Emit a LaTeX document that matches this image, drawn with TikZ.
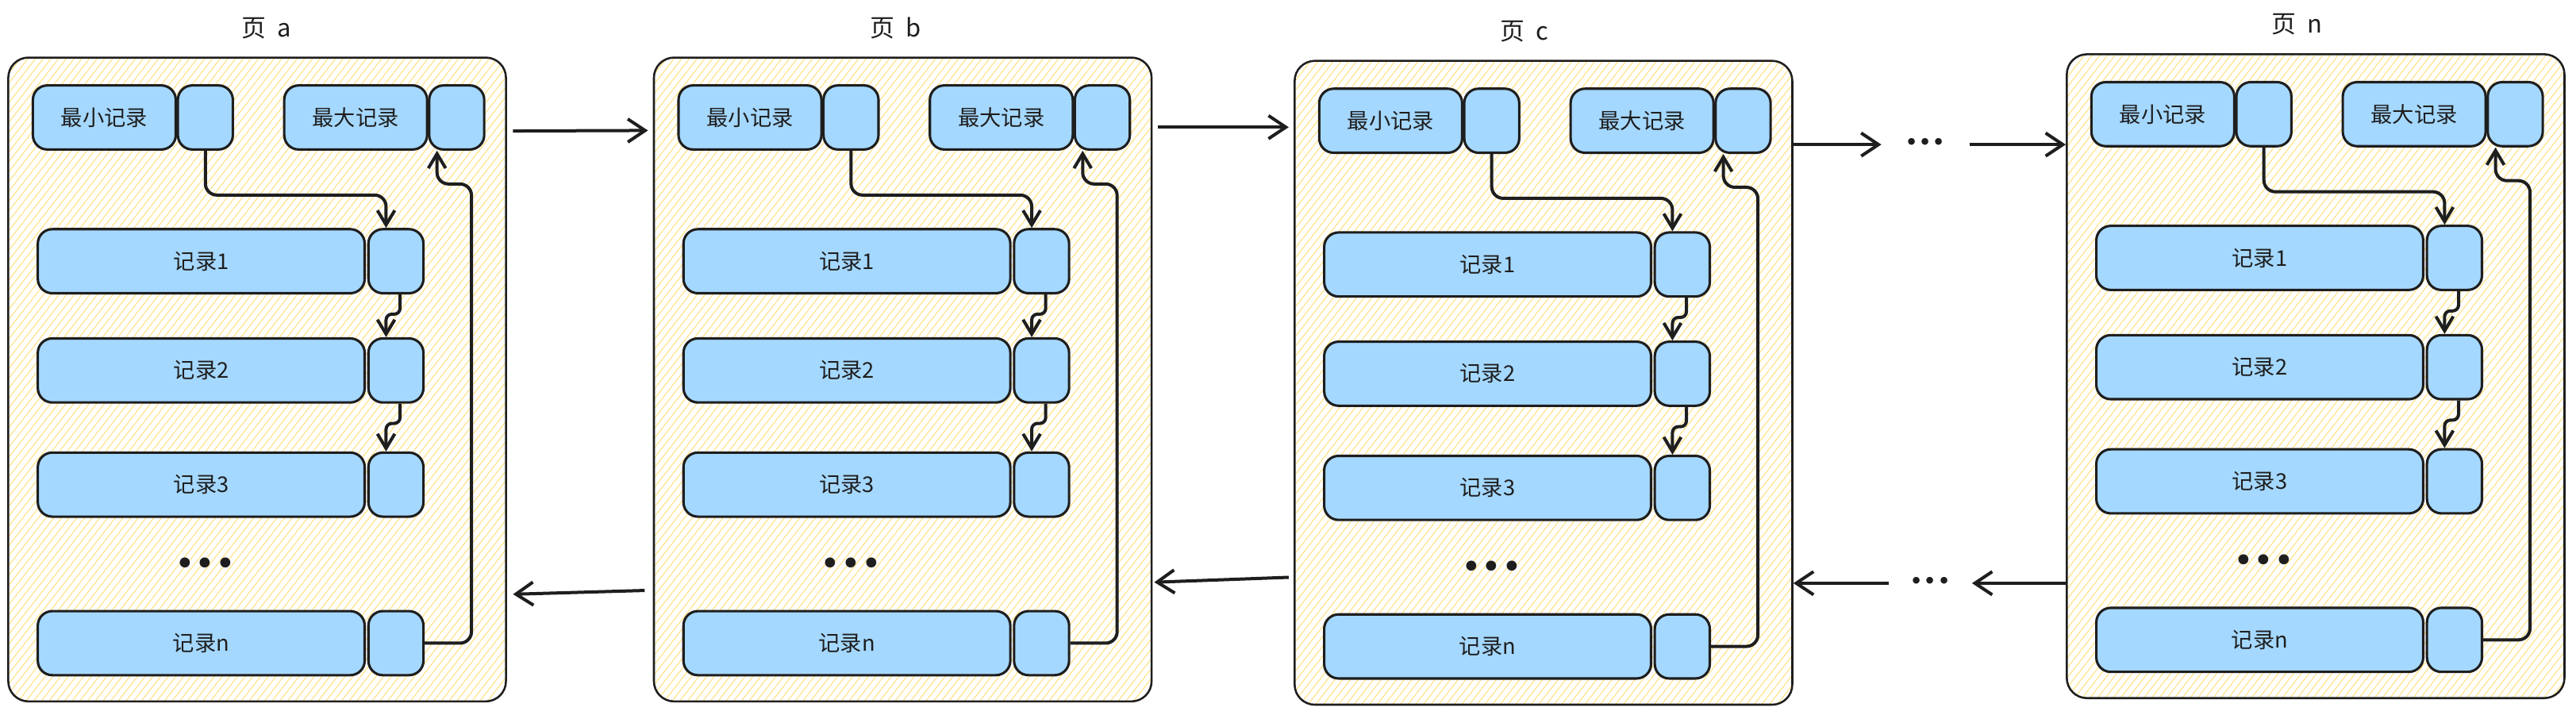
\documentclass[tikz,border=0pt]{standalone}
\usepackage{fontspec}
\setmainfont{Noto Sans CJK SC}
\newfontfamily\dotfont{DejaVu Sans}
\usepackage{tikz}
\usetikzlibrary{arrows.meta,patterns.meta}
\definecolor{ink}{HTML}{1E1E1E}
\definecolor{recblue}{HTML}{A5D8FF}
\definecolor{hatch}{HTML}{FFE58F}

\tikzset{
  page/.style={draw=ink, line width=0.7pt, rounded corners=7pt,
    preaction={fill=white},
    pattern={Lines[angle=52,distance=2.1pt,line width=0.35pt]}, pattern color=hatch,
    minimum width=6.06cm, minimum height=7.84cm},
  rec/.style={draw=ink, line width=0.85pt, fill=recblue, rounded corners=5pt,
    minimum height=0.78cm, inner sep=0pt, text=ink, font=\fontsize{7.5}{9}\selectfont},
  ptr/.style={rec, minimum width=0.67cm},
  link/.style={draw=ink, line width=1.1pt, rounded corners=4pt,
    -{Straight Barb[length=5pt,width=6pt]}},
  hop/.style={draw=ink, line width=1.1pt, -{Straight Barb[length=6pt,width=8pt]}},
  dots/.style={text=ink, inner sep=0pt, font=\dotfont\fontsize{12}{12}\selectfont},
}

\begin{document}
\begin{tikzpicture}[x=0.02cm, y=-0.02cm]
\fill[white] (0,0) rectangle (1568,435);
\useasboundingbox (0,0) rectangle (1568,435);

\foreach \p/\ox/\oy/\tx in {a/5/35/157, b/398/35/147, c/788/37/140, n/1258/33/140}{
\begin{scope}[shift={(\ox,\oy)}]
\node[page] (\p-page) at (151.5,196) {};
\node[text=ink, font=\fontsize{8.5}{10}\selectfont] (\p-title) at (\tx,-18) {页\ \ \p};
\node[rec, minimum width=1.74cm] (\p-min) at (58.5,36.5) {最小记录};
\node[ptr] (\p-minp) at (120,36.5) {};
\node[rec, minimum width=1.74cm] (\p-max) at (211.5,36.5) {最大记录};
\node[ptr] (\p-maxp) at (273,36.5) {};
\foreach \r/\y in {1/124, 2/190.5, 3/260, n/356.5}{
  \node[rec, minimum width=3.98cm] (\p-r\r) at (117.5,\y) {记录\r};
  \node[ptr] (\p-p\r) at (236,\y) {};
}
\node[dots] (\p-dots) at (120,310) {•••};
\draw[link] (\p-minp.south) -- ++(0,27) -| ([xshift=-0.12cm]\p-p1.north);
\draw[link, rounded corners=2pt] ([xshift=0.05cm]\p-p1.south) -- ++(0,12) -| ([xshift=-0.12cm]\p-p2.north);
\draw[link, rounded corners=2pt] ([xshift=0.05cm]\p-p2.south) -- ++(0,12) -| ([xshift=-0.12cm]\p-p3.north);
\draw[link] (\p-pn.east) -| (282,77) -| ([xshift=-0.24cm]\p-maxp.south);
\end{scope}
}

\node[dots, font=\dotfont\fontsize{8}{8}\selectfont, minimum width=1.06cm] (topdots) at (1172,88) {•••};
\node[dots, font=\dotfont\fontsize{8}{8}\selectfont, minimum width=1.0cm] (botdots) at (1175,355) {•••};

\draw[hop] ([shift={(4,45)}]a-page.north east) -- ([shift={(-3,45)}]b-page.north west);
\draw[hop] ([shift={(-5,325)}]b-page.north west) -- ([shift={(4,327)}]a-page.north east);
\draw[hop] ([shift={(3,43)}]b-page.north east) -- ([shift={(-3,41)}]c-page.north west);
\draw[hop] ([shift={(-3,315)}]c-page.north west) -- ([shift={(1,320)}]b-page.north east);
\draw[hop] (c-page.east |- topdots.west) -- (topdots.west);
\draw[hop] (topdots.east) -- (n-page.west |- topdots.east);
\draw[hop] (n-page.west |- botdots.east) -- (botdots.east);
\draw[hop] (botdots.west) -- (c-page.east |- botdots.west);

\end{tikzpicture}
\end{document}
